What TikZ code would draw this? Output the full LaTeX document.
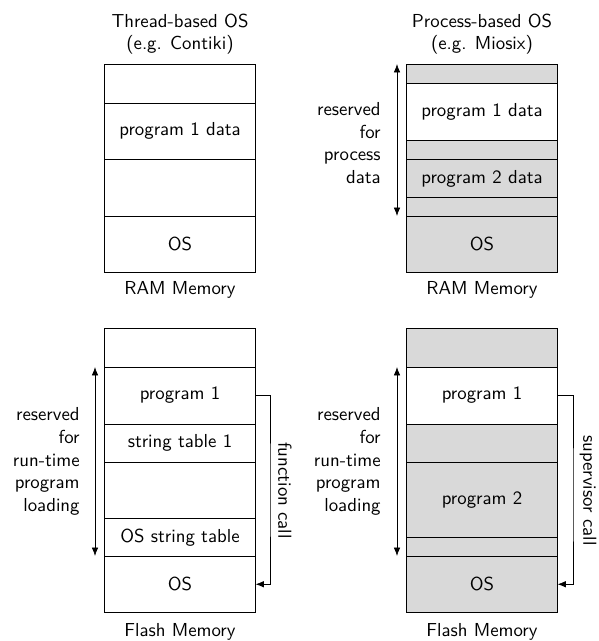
\documentclass[tikz,border=0pt]{standalone}
\usetikzlibrary{arrows.meta}
\newcommand{\PXL}{0.5318pt}
\tikzset{
  cell/.style={draw, line width=0.5pt, minimum width={151*\PXL}, inner sep=0pt, outer sep=0pt, anchor=north west},
  lbl/.style={inner sep=0pt, align=right, anchor=east},
  ttl/.style={inner sep=0pt, align=center},
  conn/.style={line width=0.4pt, -{Latex[length=4.5pt,width=3.5pt]}},
  dbl/.style={line width=0.4pt, {Latex[length=4.5pt,width=3.5pt]}-{Latex[length=4.5pt,width=3.5pt]}},
  shade/.style={fill=gray!30},
  blank/.style={fill=white}
}
\newcommand{\memcell}[6]{\node[cell,#6,minimum height={(#4-#3)*\PXL}] (#1) at (#2,#3) {#5};}
\begin{document}
\begin{tikzpicture}[x=0.5318pt,y=-0.5318pt,font=\sffamily]
\useasboundingbox (0,0) rectangle (598,641);
% titles
\node[ttl] (t1) at (180,34) {Thread-based OS\\(e.g. Contiki)};
\node[ttl] (t2) at (482,34) {Process-based OS\\(e.g. Miosix)};
% top-left RAM
\memcell{a1}{104.5}{64}{103}{}{blank}
\memcell{a2}{104.5}{103}{159.5}{program 1 data}{blank}
\memcell{a3}{104.5}{159.5}{216}{}{blank}
\memcell{a4}{104.5}{216}{272}{OS}{blank}
\node[ttl] (ra) at (180,290) {RAM Memory};
% top-right RAM
\memcell{b1}{406.5}{64}{83.5}{}{shade}
\memcell{b2}{406.5}{83.5}{140}{program 1 data}{blank}
\memcell{b3}{406.5}{140}{159.5}{}{shade}
\memcell{b4}{406.5}{159.5}{197.5}{program 2 data}{shade}
\memcell{b5}{406.5}{197.5}{216}{}{shade}
\memcell{b6}{406.5}{216}{272}{OS}{shade}
\node[ttl] (rb) at (482,290) {RAM Memory};
\coordinate (axb) at (397,0);
\draw[dbl] (b1.north west -| axb) -- (b5.south west -| axb);
\node[lbl] (lb) at (381,143) {reserved\\for\\process\\data};
% bottom-left Flash
\memcell{c1}{104.5}{328.5}{367}{}{blank}
\memcell{c2}{104.5}{367}{424}{program 1}{blank}
\memcell{c3}{104.5}{424}{462}{string table 1}{blank}
\memcell{c4}{104.5}{462}{518.5}{}{blank}
\memcell{c5}{104.5}{518.5}{556}{OS string table}{blank}
\memcell{c6}{104.5}{556}{612.5}{OS}{blank}
\node[ttl] (fa) at (180,632) {Flash Memory};
\coordinate (axc) at (95,0);
\draw[dbl] (c2.north west -| axc) -- (c5.south west -| axc);
\node[lbl] (lc) at (80,461.5) {reserved\\for\\run-time\\program\\loading};
\coordinate (rc) at (270,0);
\draw[conn] (c2.east) -| (rc |- c4.east) |- (c6.east);
\node[rotate=-90,inner sep=0pt] (fcall) at (285,490.5) {function call};
% bottom-right Flash
\memcell{d1}{406.5}{328.5}{367}{}{shade}
\memcell{d2}{406.5}{367}{424}{program 1}{blank}
\memcell{d3}{406.5}{424}{462}{}{shade}
\memcell{d4}{406.5}{462}{537.5}{program 2}{shade}
\memcell{d5}{406.5}{537.5}{556}{}{shade}
\memcell{d6}{406.5}{556}{612.5}{OS}{shade}
\node[ttl] (fb) at (482,632) {Flash Memory};
\coordinate (axd) at (397,0);
\draw[dbl] (d2.north west -| axd) -- (d5.south west -| axd);
\node[lbl] (ld) at (381,461.5) {reserved\\for\\run-time\\program\\loading};
\coordinate (rd) at (573,0);
\draw[conn] (d2.east) -| (rd |- d4.east) |- (d6.east);
\node[rotate=-90,inner sep=0pt] (scall) at (588,490.5) {supervisor call};
\end{tikzpicture}
\end{document}
